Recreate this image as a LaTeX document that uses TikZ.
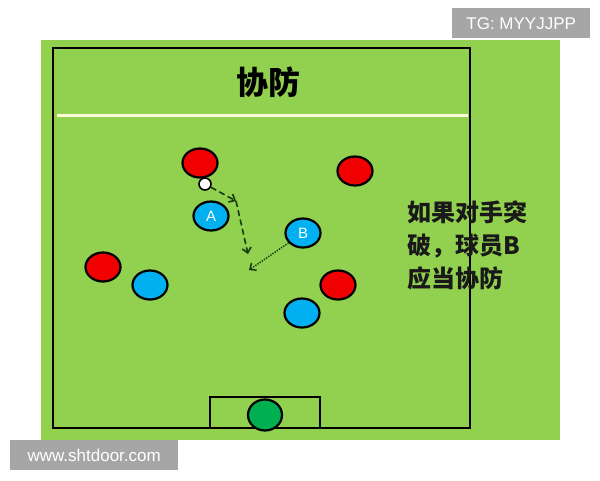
\documentclass[tikz,border=0pt]{standalone}
\usepackage{fontspec}
\setmainfont{Liberation Sans}
\newfontfamily\cjk{Noto Sans CJK SC}
\usetikzlibrary{shapes.geometric,arrows.meta}
\definecolor{fieldgreen}{HTML}{92D050}
\definecolor{pred}{HTML}{F00000}
\definecolor{pblue}{HTML}{00B0F0}
\definecolor{gkgreen}{HTML}{00B050}
\definecolor{wmgray}{HTML}{A6A6A6}
\definecolor{arrowgreen}{HTML}{143C0C}
\tikzset{
  player/.style={ellipse, draw=black, line width=2.2pt, minimum width=35pt, minimum height=29pt, inner sep=0pt,
     font=\fontsize{15}{15}\selectfont, text=white},
  redp/.style={player, fill=pred},
  bluep/.style={player, fill=pblue},
  wmark/.style={fill=wmgray, text=white, font=\fontsize{17}{17}\selectfont, inner sep=0pt, anchor=north west},
  runarrow/.style={draw=arrowgreen, line width=1.6pt, dash pattern=on 6pt off 3.5pt, -{Straight Barb[length=5pt,width=9pt]}},
  passarrow/.style={draw=arrowgreen, line width=1.5pt, dash pattern=on 1.3pt off 1.3pt, -{Straight Barb[length=5pt,width=9pt]}}
}
\begin{document}
\begin{tikzpicture}[x=1pt,y=-1pt]
\useasboundingbox (0,0) rectangle (600,480);
\fill[white] (0,0) rectangle (600,480);
% field
\fill[fieldgreen] (41,40) rectangle (560,440);
\draw[black, line width=1.8pt] (53,48) rectangle (470,428);
\draw[white!85!yellow, line width=3pt] (57,115) -- (468,115);
\node[font=\cjk\bfseries\fontsize{32}{32}\selectfont, text=black] (title) at (268,82) {协防};
% goal
\draw[black, line width=1.8pt] (210,428) -- (210,397) -- (320,397) -- (320,428);
\node[ellipse, draw=black, line width=2.2pt, fill=gkgreen, minimum width=34pt, minimum height=31pt, inner sep=0pt] (gk) at (265,415) {};
% players
\node[redp] (r1) at (200,163) {};
\node[redp] (r2) at (355,171) {};
\node[redp] (r3) at (103,267) {};
\node[redp] (r4) at (338,285) {};
\node[bluep] (a) at (211,216) {A};
\node[bluep] (b) at (303,233) {B};
\node[bluep] (b3) at (150,285) {};
\node[bluep] (b4) at (302,313) {};
\node[circle, draw=black, line width=1.6pt, fill=white, minimum size=12pt, inner sep=0pt] (ball) at (205,184) {};
% arrows
\coordinate (p1) at (236,201);
\coordinate (p2) at (248,254);
\coordinate (p3) at (249,270);
\draw[runarrow] (ball) -- (p1);
\draw[runarrow] (p1) -- (p2);
\draw[passarrow] (b) -- (p3);
% text
\node[font=\cjk\bfseries\fontsize{24}{33}\selectfont, text=black!90, align=left, anchor=north west, inner sep=0pt] (note) at (407,201) {如果对手突\\破，球员B\\应当协防};
% watermarks
\node[wmark, minimum width=138pt, minimum height=30pt] (tg) at (452,8) {TG: MYYJJPP};
\node[wmark, minimum width=168pt, minimum height=30pt] (www) at (10,440) {www.shtdoor.com};
\end{tikzpicture}
\end{document}
